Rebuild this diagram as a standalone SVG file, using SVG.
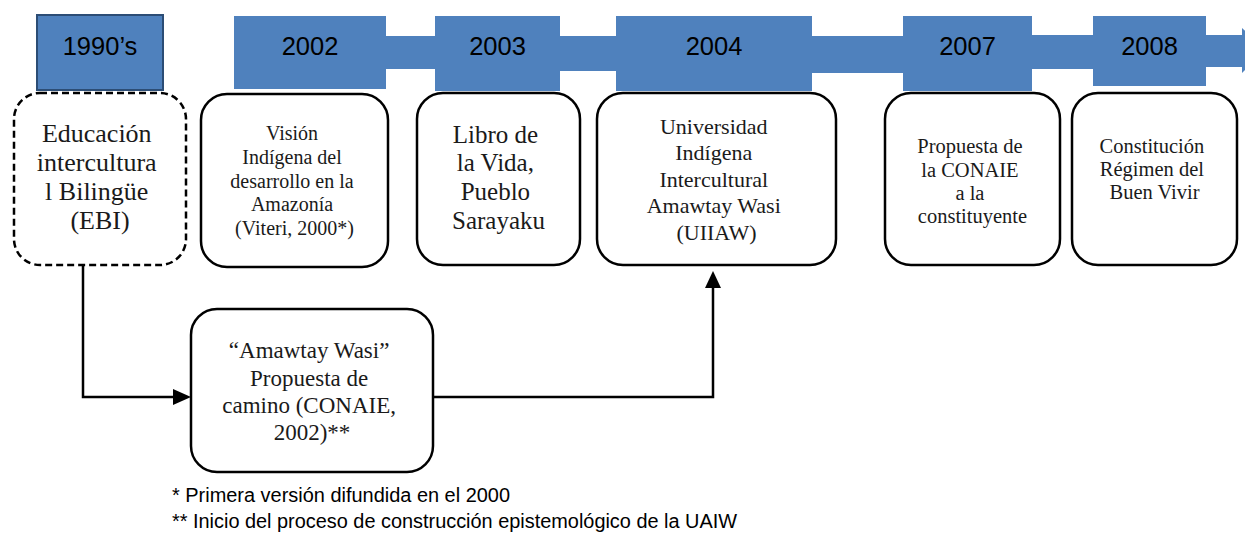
<svg xmlns="http://www.w3.org/2000/svg" width="1245" height="534" viewBox="0 0 1245 534">
<defs>
<style>
.band{fill:#4f81bd}
.yr{fill:#4f81bd}
.yt{font-family:"Liberation Sans",Arial,sans-serif;font-size:25.5px;fill:#000;text-anchor:middle}
.box{fill:#fff;stroke:#000;stroke-width:2.5}
.dash{stroke-dasharray:7 4}
.t{font-family:"Liberation Serif","Times New Roman",serif;fill:#1a1a1a;text-anchor:middle}
.conn{fill:none;stroke:#000;stroke-width:2.5}
.head{fill:#000}
.note{font-family:"Liberation Sans",Arial,sans-serif;font-size:19.5px;fill:#000}
</style>
</defs>

<g id="timeline-band">
<rect class="band" x="386" y="36" width="50" height="33"/>
<rect class="band" x="559" y="36" width="58" height="35"/>
<rect class="band" x="811" y="36" width="93" height="37"/>
<rect class="band" x="1031" y="35" width="63" height="34"/>
<rect class="band" x="1205" y="35" width="38" height="32"/>
<polygon class="band" points="1242,28 1242,73 1265,50"/>
</g>

<g id="year-1990s">
<rect x="37" y="15" width="126" height="75" fill="#4f81bd" stroke="#2c4d75" stroke-width="2"/>
<text class="yt" x="100" y="55">1990’s</text>
</g>
<g id="year-2002">
<rect class="yr" x="234" y="16" width="152" height="73"/>
<text class="yt" x="310" y="55">2002</text>
</g>
<g id="year-2003">
<rect class="yr" x="435" y="16" width="125" height="75"/>
<text class="yt" x="497.5" y="55">2003</text>
</g>
<g id="year-2004">
<rect class="yr" x="616" y="16" width="196" height="75"/>
<text class="yt" x="714" y="55">2004</text>
</g>
<g id="year-2007">
<rect class="yr" x="903" y="16" width="129" height="75"/>
<text class="yt" x="967.5" y="55">2007</text>
</g>
<g id="year-2008">
<rect class="yr" x="1093" y="16" width="113" height="70"/>
<text class="yt" x="1149.5" y="55">2008</text>
</g>

<g id="node-ebi">
<rect class="box dash" x="14" y="93" width="172" height="172" rx="26"/>
<text class="t" font-size="26">
<tspan x="100" y="142">Educación</tspan>
<tspan x="100" y="171">intercultura</tspan>
<tspan x="100" y="200">l Bilingüe</tspan>
<tspan x="100" y="229">(EBI)</tspan>
</text>
</g>

<g id="node-vision">
<rect class="box" x="201" y="94" width="187" height="173" rx="26"/>
<text class="t" font-size="20">
<tspan x="294.5" y="140">Visión</tspan>
<tspan x="294.5" y="164">Indígena del</tspan>
<tspan x="294.5" y="188">desarrollo en la</tspan>
<tspan x="294.5" y="211">Amazonía</tspan>
<tspan x="294.5" y="235">(Viteri, 2000*)</tspan>
</text>
</g>

<g id="node-libro">
<rect class="box" x="417" y="93" width="163" height="172" rx="26"/>
<text class="t" font-size="25">
<tspan x="498.5" y="143">Libro de</tspan>
<tspan x="498.5" y="171">la Vida,</tspan>
<tspan x="498.5" y="200">Pueblo</tspan>
<tspan x="498.5" y="229">Sarayaku</tspan>
</text>
</g>

<g id="node-uiiaw">
<rect class="box" x="597" y="93" width="239" height="172" rx="26"/>
<text class="t" font-size="22">
<tspan x="716.5" y="134">Universidad</tspan>
<tspan x="716.5" y="160">Indígena</tspan>
<tspan x="716.5" y="187">Intercultural</tspan>
<tspan x="716.5" y="213">Amawtay Wasi</tspan>
<tspan x="716.5" y="240">(UIIAW)</tspan>
</text>
</g>

<g id="node-propuesta-2007">
<rect class="box" x="885" y="93" width="175" height="172" rx="26"/>
<text class="t" font-size="20.5">
<tspan x="972.5" y="153">Propuesta de</tspan>
<tspan x="972.5" y="177">la CONAIE</tspan>
<tspan x="972.5" y="200">a la</tspan>
<tspan x="972.5" y="223">constituyente</tspan>
</text>
</g>

<g id="node-constitucion">
<rect class="box" x="1072" y="93" width="165" height="172" rx="26"/>
<text class="t" font-size="20.5">
<tspan x="1154.5" y="153">Constitución</tspan>
<tspan x="1154.5" y="176">Régimen del</tspan>
<tspan x="1154.5" y="199">Buen Vivir</tspan>
</text>
</g>

<g id="node-amawtay">
<rect class="box" x="191" y="309" width="242" height="163" rx="26"/>
<text class="t" font-size="23">
<tspan x="312" y="358">“Amawtay Wasi”</tspan>
<tspan x="312" y="386">Propuesta de</tspan>
<tspan x="312" y="413">camino (CONAIE,</tspan>
<tspan x="312" y="440">2002)**</tspan>
</text>
</g>

<g id="connectors">
<path class="conn" d="M83,265 L83,397 L175,397"/>
<polygon class="head" points="173,389 191,397 173,405"/>
<path class="conn" d="M433,397 L713,397 L713,285"/>
<polygon class="head" points="705,288 713,271 721,288"/>
</g>

<g id="footnotes">
<text class="note" x="172" y="502" textLength="338" lengthAdjust="spacingAndGlyphs">* Primera versión difundida en el 2000</text>
<text class="note" x="172" y="528" textLength="565" lengthAdjust="spacingAndGlyphs">** Inicio del proceso de construcción epistemológico de la UAIW</text>
</g>
</svg>
